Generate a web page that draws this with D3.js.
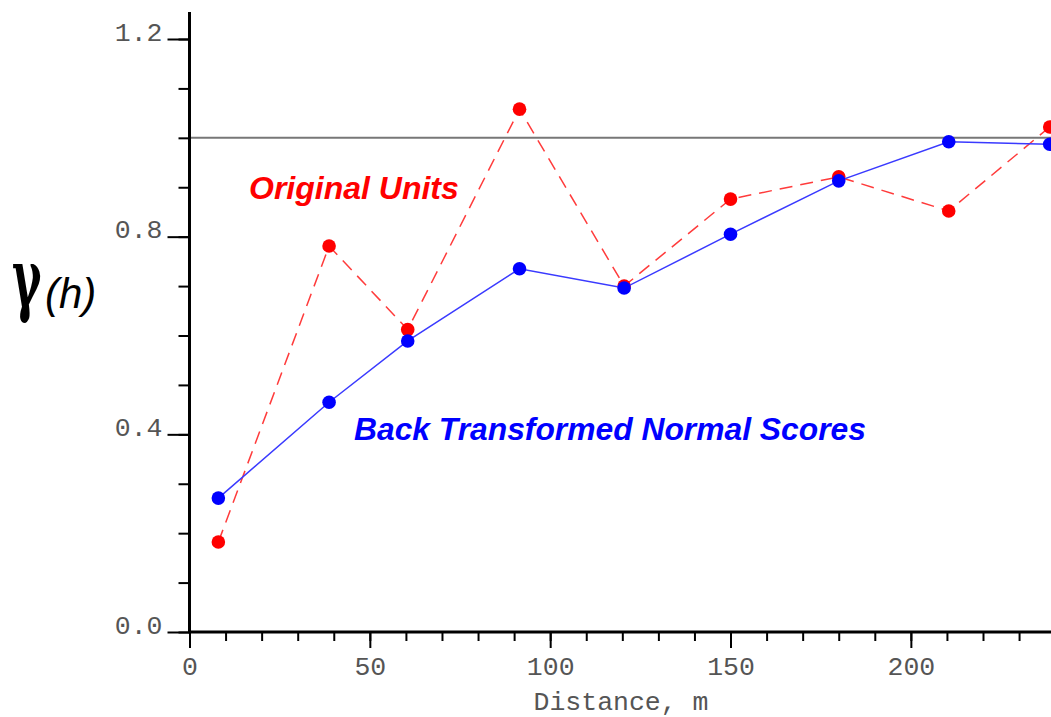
<!DOCTYPE html>
<html>
<head>
<meta charset="UTF-8">
<script src="https://d3js.org/d3.v7.min.js"></script>
<style>
    body { margin: 0; background: #fff; }
    svg { display: block; }
    .tick text { font-family: "Liberation Mono", "Courier New", monospace; fill: #555; }
</style>
</head>
<body>
<div id="chart"></div>
<script>
    // variogram points
    const distance = [8, 38.7, 60.5, 91.5, 120.5, 150, 180, 210.5, 238.5];
    const originalUnits = [0.182, 0.781, 0.612, 1.058, 0.700, 0.876, 0.921, 0.852, 1.022];
    const normalScores = [0.271, 0.465, 0.589, 0.735, 0.696, 0.805, 0.913, 0.992, 0.987];
    const yMajor = [0.0, 0.4, 0.8, 1.2];
    const yMinor = d3.range(0, 13).map(i => i / 10);
    const xMajor = [0, 50, 100, 150, 200];
    const xMinor = d3.range(0, 25).map(i => i * 10);
    const sill = 1.0;

    const width = 1051, height = 717;
    const x0 = 189.5, y0 = 632;

    const x = d3.scaleLinear().domain([0, 220]).range([x0, 983]);
    const y = d3.scaleLinear().domain([0, 1.2]).range([y0, 39]);

    const svg = d3.select("#chart").append("svg")
        .attr("width", width)
        .attr("height", height);

    // sill line
    svg.append("line")
        .attr("x1", x0).attr("x2", width)
        .attr("y1", y(sill)).attr("y2", y(sill))
        .attr("stroke", "#777").attr("stroke-width", 2);

    // y axis ticks
    svg.append("g")
        .attr("transform", `translate(${x0},0)`)
        .call(d3.axisLeft(y).tickValues(yMinor).tickSize(11).tickFormat(""));
    const yMaj = svg.append("g")
        .attr("transform", `translate(${x0},0)`)
        .call(d3.axisLeft(y).tickValues(yMajor).tickSize(22).tickFormat(d3.format(".1f")));
    yMaj.selectAll("text").attr("x", -27).attr("dy", "0").attr("y", 1)
        .style("font-size", "26.5px");

    // x axis ticks
    svg.append("g")
        .attr("transform", `translate(0,${y0})`)
        .call(d3.axisBottom(x).tickValues(xMinor).tickSize(9).tickFormat(""));
    const xMaj = svg.append("g")
        .attr("transform", `translate(0,${y0})`)
        .call(d3.axisBottom(x).tickValues(xMajor).tickSize(16).tickFormat(d3.format("d")));
    xMaj.selectAll("text").attr("y", 43).attr("dy", "0").style("font-size", "26.5px");

    svg.selectAll(".domain").remove();
    svg.selectAll(".tick line").attr("stroke", "#000").attr("stroke-width", 2);

    // axis lines
    svg.append("line")
        .attr("x1", x0).attr("x2", x0).attr("y1", 12).attr("y2", y0 + 1)
        .attr("stroke", "#000").attr("stroke-width", 3);
    svg.append("line")
        .attr("x1", x0 - 1).attr("x2", width).attr("y1", y0).attr("y2", y0)
        .attr("stroke", "#000").attr("stroke-width", 3);

    svg.append("text")
        .attr("x", 621).attr("y", 710)
        .attr("text-anchor", "middle")
        .style("font-family", "'Liberation Mono', monospace")
        .style("font-size", "26.5px")
        .attr("fill", "#555")
        .text("Distance, m");

    // gamma(h) label
    const lab = svg.append("g").attr("transform", "translate(12,306)");
    lab.append("text")
        .attr("transform", "scale(0.72,1.3)")
        .style("font-family", "'DejaVu Serif', serif")
        .style("font-size", "62px")
        .style("font-weight", "bold")
        .text("γ");
    lab.append("text")
        .attr("x", 33).attr("y", 2)
        .style("font-family", "'Liberation Sans', Arial, sans-serif")
        .style("font-size", "42px")
        .style("font-style", "italic")
        .text("(h)");

    const line = d3.line().x(d => x(d[0])).y(d => y(d[1]));

    function drawSeries(vals, color, lineColor, dash) {
        const pts = distance.map((d, i) => [d, vals[i]]);
        svg.append("path")
            .datum(pts)
            .attr("d", line)
            .attr("fill", "none")
            .attr("stroke", lineColor)
            .attr("stroke-width", 1.5)
            .attr("stroke-dasharray", dash);
        svg.append("g").selectAll("circle")
            .data(pts)
            .enter().append("circle")
            .attr("cx", d => x(d[0]))
            .attr("cy", d => y(d[1]))
            .attr("r", 6.8)
            .attr("fill", color);
    }

    drawSeries(originalUnits, "#ff0000", "#ff3b3b", "13,8");
    drawSeries(normalScores, "#0000ff", "#3a3aff", null);

    svg.append("text")
        .attr("x", 249).attr("y", 199)
        .style("font-family", "'Liberation Sans', Arial, sans-serif")
        .style("font-size", "32px").style("font-weight", "bold").style("font-style", "italic")
        .attr("fill", "#ff0000")
        .text("Original Units");
    svg.append("text")
        .attr("x", 354).attr("y", 440)
        .style("font-family", "'Liberation Sans', Arial, sans-serif")
        .style("font-size", "31.8px").style("font-weight", "bold").style("font-style", "italic")
        .attr("fill", "#0000ff")
        .text("Back Transformed Normal Scores");
</script>
</body>
</html>
